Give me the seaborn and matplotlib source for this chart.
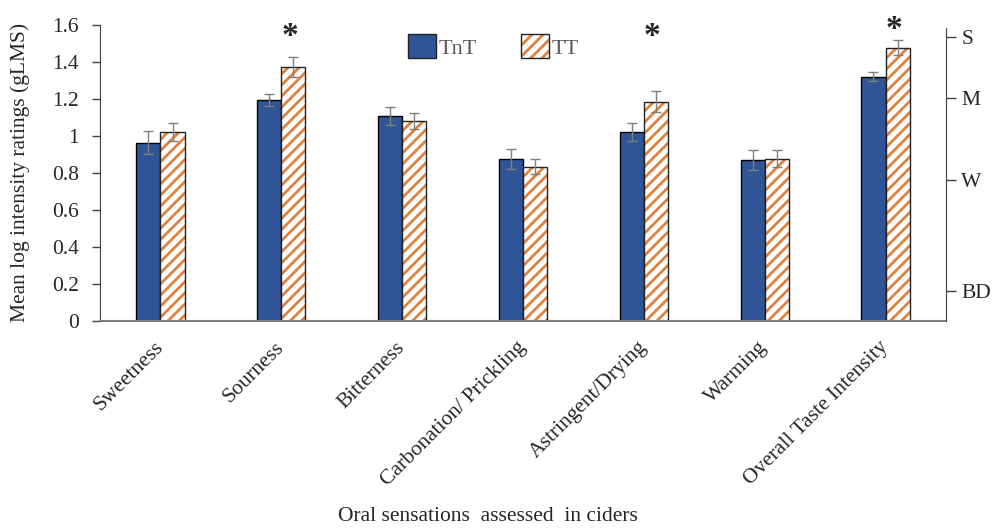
import pandas as pd
import matplotlib
matplotlib.use("Agg")
import matplotlib.pyplot as plt
from matplotlib.patches import Patch, Rectangle
import seaborn as sns

sensations = ["Sweetness", "Sourness", "Bitterness", "Carbonation/ Prickling",
              "Astringent/Drying", "Warming", "Overall Taste Intensity"]
tnt_mean = [0.962, 1.193, 1.108, 0.874, 1.020, 0.868, 1.319]
tt_mean = [1.020, 1.373, 1.080, 0.834, 1.185, 0.877, 1.477]
tnt_err = [0.062, 0.032, 0.050, 0.055, 0.050, 0.054, 0.025]
tt_err = [0.050, 0.054, 0.045, 0.042, 0.057, 0.047, 0.040]
groups = ["TnT", "TT"]
significant = ["Sourness", "Astringent/Drying", "Overall Taste Intensity"]
star_height = [1.535, 1.535, 1.575]
gLMS_labels = ["BD", "W", "M", "S"]
gLMS_ticks = [0.16, 0.76, 1.205, 1.535]

blue = "#2F5597"
orange = "#E0823F"

df = pd.DataFrame({
    "sensation": sensations * 2,
    "group": ["TnT"] * len(sensations) + ["TT"] * len(sensations),
    "value": tnt_mean + tt_mean,
})

sns.set_style("white")
plt.rcParams["font.family"] = ["Liberation Serif", "DejaVu Serif"]
plt.rcParams["hatch.linewidth"] = 2.0

fig = plt.figure(figsize=(10, 5.28), dpi=100)
ax = fig.add_axes([0.1, 0.392, 0.846, 0.561])

sns.barplot(data=df, x="sensation", y="value", hue="group", order=sensations,
            hue_order=groups, palette=[blue, "white"], saturation=1, width=0.4,
            edgecolor="black", linewidth=1, errorbar=None, legend=False, ax=ax)

# TT bars: orange hatch with a dark outline on top
for p in ax.containers[1]:
    p.set_edgecolor(orange)
    p.set_hatch("///")
    p.set_linewidth(0)
    ax.add_patch(Rectangle((p.get_x(), p.get_y()), p.get_width(), p.get_height(),
                           fill=False, edgecolor="#222222", linewidth=1,
                           zorder=p.get_zorder() + 0.1))

# error bars
for cont, err in zip(ax.containers, [tnt_err, tt_err]):
    xs = [p.get_x() + p.get_width() / 2 for p in cont]
    ys = [p.get_height() for p in cont]
    ax.errorbar(xs, ys, yerr=err, fmt="none", ecolor="#7f7f7f",
                elinewidth=1, capsize=3.5, capthick=1, zorder=5)

# significance stars
tt_centers = {s: p.get_x() + p.get_width() / 2 for s, p in zip(sensations, ax.containers[1])}
for s, h in zip(significant, star_height):
    ax.text(tt_centers[s] - 0.03, h, "*", ha="center", va="center", fontsize=24,
            fontweight="bold", clip_on=False)

ax.set_ylim(0, 1.6)
ax.set_yticks([0, 0.2, 0.4, 0.6, 0.8, 1, 1.2, 1.4, 1.6])
ax.set_yticklabels(["0", "0.2", "0.4", "0.6", "0.8", "1", "1.2", "1.4", "1.6"])
ax.set_xlim(-0.5, len(sensations) - 0.5)
ax.tick_params(axis="y", which="major", direction="out", length=6, width=1,
               color="#404040", labelsize=15.5, pad=9, left=True)
ax.tick_params(axis="x", length=0, labelsize=15.5, pad=17)
plt.setp(ax.get_xticklabels(), rotation=45, ha="right", va="center",
         rotation_mode="anchor")

ax.set_ylabel("Mean log intensity ratings (gLMS)", fontsize=15.5)
ax.yaxis.set_label_coords(-0.083, 0.5)
ax.set_xlabel("Oral sensations  assessed  in ciders", fontsize=15.5)
ax.xaxis.set_label_coords(0.459, -0.628)

for side in ["top", "right"]:
    ax.spines[side].set_visible(False)
ax.spines["left"].set_color("#404040")
ax.spines["bottom"].set_color("#808080")
ax.spines["bottom"].set_linewidth(1.5)

# right-hand gLMS scale
ax2 = ax.twinx()
ax2.set_ylim(0, 1.6)
ax2.set_yticks(gLMS_ticks)
ax2.set_yticklabels(gLMS_labels)
ax2.tick_params(axis="y", direction="out", length=7, width=1, color="#404040",
                labelsize=15.5, pad=4, right=True)
for side in ["top", "left", "bottom"]:
    ax2.spines[side].set_visible(False)
ax2.spines["right"].set_color("#404040")
ax2.spines["right"].set_bounds(0, 1.585)
ax2.grid(False)

# legend
h_tnt = Patch(facecolor=blue, edgecolor="#222222", linewidth=1)
h_tt = (Patch(facecolor="white", edgecolor=orange, hatch="///", linewidth=0),
        Patch(fill=False, edgecolor="#222222", linewidth=1))
leg = ax.legend([h_tnt, h_tt], groups, loc="upper center", bbox_to_anchor=(0.465, 1.035),
                ncol=2, frameon=False, fontsize=16, handlelength=1.25, handleheight=1.25,
                handletextpad=0.1, columnspacing=2.0)
for t in leg.get_texts():
    t.set_color("#595959")

fig.savefig("out.png", dpi=100)
